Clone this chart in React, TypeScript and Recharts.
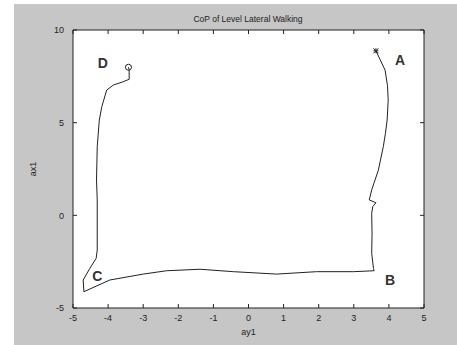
import {
  ComposedChart,
  Line,
  Scatter,
  XAxis,
  YAxis,
  ReferenceDot,
  Label,
} from 'recharts';

// centre-of-pressure trace, from A (start) round to D (end)
const pathX = [
  3.63, 3.75, 3.89, 3.96, 3.98, 3.95, 3.9, 3.84, 3.7, 3.51, 3.44, 3.63, 3.54, 3.51, 3.52, 3.51, 3.56, 3.58,
  2.99, 1.94, 0.8, -0.43, -1.38, -2.33, -3.0, -3.95, -4.69,
  -4.71, -4.52, -4.34, -4.31, -4.31, -4.33, -4.31, -4.25, -4.18, -4.04, -3.85, -3.57, -3.4, -3.4, -3.42,
];
const pathY = [
  8.88, 8.4, 7.84, 7.0, 6.22, 5.14, 4.4, 3.7, 2.44, 1.37, 0.83, 0.68, 0.47, 0.11, -1.0, -2.05, -2.86, -2.99,
  -3.04, -3.04, -3.17, -3.04, -2.91, -2.99, -3.17, -3.49, -4.12,
  -3.49, -2.86, -2.32, -1.87, 0.83, 1.9, 3.7, 5.14, 5.86, 6.76, 7.03, 7.21, 7.34, 7.84, 7.99,
];

const xTicks = [-5, -4, -3, -2, -1, 0, 1, 2, 3, 4, 5];
const yTicks = [-5, 0, 5, 10];

const cornerLabels = [
  { name: 'A', x: 4.32, y: 8.38 },
  { name: 'B', x: 4.03, y: -3.49 },
  { name: 'C', x: -4.31, y: -3.28 },
  { name: 'D', x: -4.15, y: 8.22 },
];

const pathData = pathX.map((x, i) => ({ x, y: pathY[i] }));
const startMark = [pathData[0]];
const endMark = [pathData[pathData.length - 1]];

const FONT = '"Liberation Sans", Arial, sans-serif';
const INK = '#222';

const W = 457;
const H = 345;
const M = { top: 30, right: 33, bottom: 7, left: 33 };
const X_AXIS_H = 30;
const Y_AXIS_W = 40;

function StarShape(props: any) {
  const { cx, cy } = props;
  const r = 2.5;
  return (
    <g stroke={INK} strokeWidth={1}>
      <line x1={cx - r} y1={cy} x2={cx + r} y2={cy} />
      <line x1={cx} y1={cy - r} x2={cx} y2={cy + r} />
      <line x1={cx - r} y1={cy - r} x2={cx + r} y2={cy + r} />
      <line x1={cx - r} y1={cy + r} x2={cx + r} y2={cy - r} />
    </g>
  );
}

function CircleShape(props: any) {
  const { cx, cy } = props;
  return <circle cx={cx} cy={cy} r={3} fill="none" stroke={INK} strokeWidth={1} />;
}

// tick marks only, no label
function NoLabel() {
  return <g />;
}

export default function App() {
  const tick = { fontSize: 9, fill: INK, fontFamily: FONT };
  const plotLeft = M.left + Y_AXIS_W;
  const plotW = W - plotLeft - M.right;
  const plotH = H - M.top - M.bottom - X_AXIS_H;

  return (
    <div style={{ position: 'absolute', left: 0, top: 0, width: W, height: H, background: '#fff' }}>
      <div style={{ position: 'absolute', left: 14, top: 4, width: W - 14, height: H - 4, background: '#c6c6c6' }} />
      <div style={{ position: 'absolute', left: plotLeft, top: M.top, width: plotW, height: plotH, background: '#fff' }} />
      <div style={{ position: 'absolute', left: 0, top: 0 }}>
        <ComposedChart width={W} height={H} margin={M} style={{ fontFamily: FONT }}>
          <XAxis
            type="number"
            dataKey="x"
            domain={[-5, 5]}
            ticks={xTicks}
            allowDataOverflow
            height={X_AXIS_H}
            tick={tick}
            tickLine={false}
            tickMargin={1}
            axisLine={{ stroke: INK }}
          >
            <Label value="ay1" position="insideBottom" offset={3} style={{ fontSize: 9, fill: INK, fontFamily: FONT }} />
          </XAxis>
          <YAxis
            type="number"
            dataKey="y"
            domain={[-5, 10]}
            ticks={yTicks}
            allowDataOverflow
            width={Y_AXIS_W}
            tick={tick}
            tickLine={false}
            tickMargin={3}
            axisLine={{ stroke: INK }}
          >
            <Label value="ax1" angle={-90} position="insideLeft" offset={0} style={{ fontSize: 9, fill: INK, fontFamily: FONT, textAnchor: 'middle' }} />
          </YAxis>

          {/* inward tick marks on all four sides; the hidden scatters give these axes a scale */}
          <XAxis xAxisId="bt" type="number" dataKey="x" orientation="bottom" mirror domain={[-5, 5]} allowDataOverflow ticks={xTicks} tick={<NoLabel />} tickSize={4} tickLine={{ stroke: INK }} stroke={INK} axisLine={false} />
          <XAxis xAxisId="tp" type="number" dataKey="x" orientation="top" mirror domain={[-5, 5]} allowDataOverflow ticks={xTicks} tick={<NoLabel />} tickSize={4} tickLine={{ stroke: INK }} stroke={INK} axisLine={{ stroke: INK }} />
          <YAxis yAxisId="lf" type="number" dataKey="y" orientation="left" mirror domain={[-5, 10]} allowDataOverflow ticks={yTicks} tick={<NoLabel />} tickSize={4} tickLine={{ stroke: INK }} stroke={INK} axisLine={false} />
          <YAxis yAxisId="rt" type="number" dataKey="y" orientation="right" mirror domain={[-5, 10]} allowDataOverflow ticks={yTicks} tick={<NoLabel />} tickSize={4} tickLine={{ stroke: INK }} stroke={INK} axisLine={{ stroke: INK }} />
          <Scatter xAxisId="bt" yAxisId="lf" data={startMark} dataKey="y" shape={<NoLabel />} isAnimationActive={false} />
          <Scatter xAxisId="tp" yAxisId="rt" data={startMark} dataKey="y" shape={<NoLabel />} isAnimationActive={false} />

          <Line
            data={pathData}
            dataKey="y"
            type="linear"
            stroke={INK}
            strokeWidth={1}
            dot={false}
            activeDot={false}
            isAnimationActive={false}
          />
          <Scatter data={startMark} dataKey="y" shape={<StarShape />} isAnimationActive={false} />
          <Scatter data={endMark} dataKey="y" shape={<CircleShape />} isAnimationActive={false} />

          {cornerLabels.map((c) => (
            <ReferenceDot
              key={c.name}
              x={c.x}
              y={c.y}
              r={0}
              fill="none"
              stroke="none"
              label={{ value: c.name, position: 'center', fontSize: 14, fontWeight: 'bold', fill: '#333', fontFamily: FONT }}
            />
          ))}

          <text x={248} y={22} textAnchor="middle" fontSize={8.5} fill={INK} fontFamily={FONT}>
            CoP of Level Lateral Walking
          </text>
        </ComposedChart>
      </div>
    </div>
  );
}
